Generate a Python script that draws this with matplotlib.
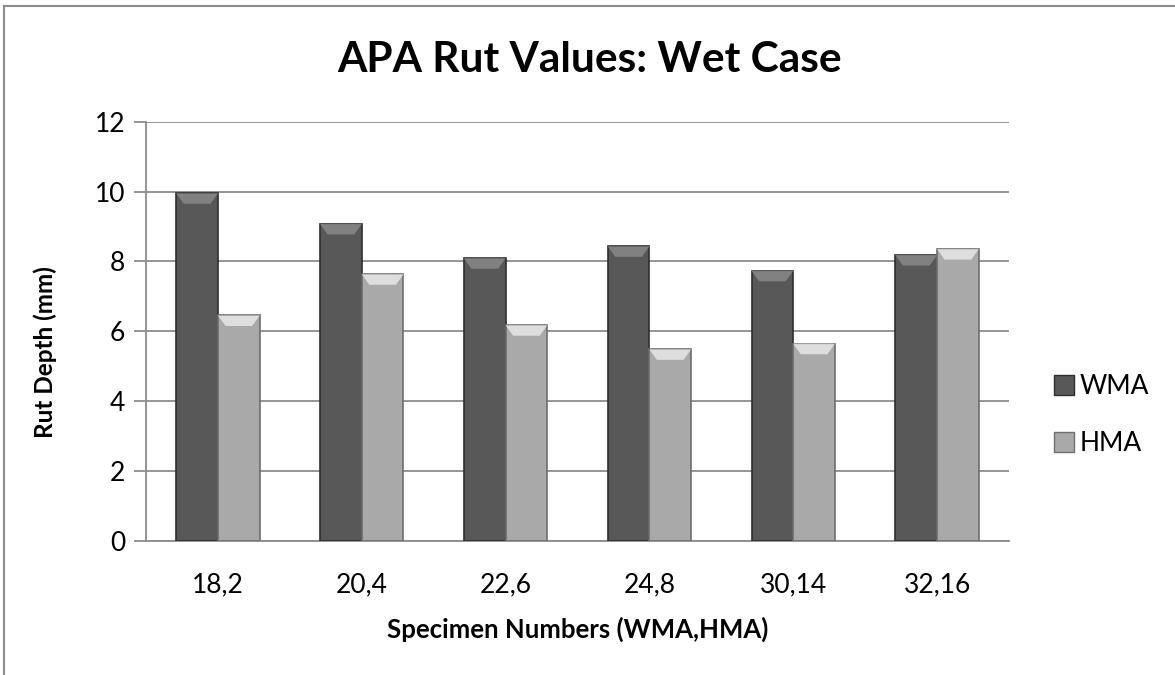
import numpy as np
import matplotlib.pyplot as plt
from matplotlib.patches import Polygon
from matplotlib.lines import Line2D

# data
categories = ['18,2', '20,4', '22,6', '24,8', '30,14', '32,16']
wma = [9.95, 9.07, 8.09, 8.43, 7.73, 8.18]
hma = [6.45, 7.63, 6.17, 5.48, 5.64, 8.35]
series_names = ['WMA', 'HMA']

plt.rcParams['font.family'] = ['Lato', 'DejaVu Sans']

fig = plt.figure(figsize=(11.75, 6.75), dpi=100)
ax = fig.add_axes([0.1243, 0.199, 0.7344, 0.6207])

x = np.arange(len(categories))
width = 0.29

styles = [
    # body, edge, bevel
    ('#585858', '#2e2e2e', '#8c8c8c'),
    ('#a9a9a9', '#6e6e6e', '#ececec'),
]

for i, vals in enumerate([wma, hma]):
    body, edge, bevel = styles[i]
    offs = (i - 0.5) * width
    bars = ax.bar(x + offs, vals, width, color=body, edgecolor=edge,
                  linewidth=1.2, zorder=3)
    # simple bevel on the top of each bar
    for b in bars:
        x0 = b.get_x()
        w = b.get_width()
        h = b.get_height()
        dx = w * 0.18
        dy = 0.3
        top = Polygon([(x0, h), (x0 + w, h), (x0 + w - dx, h - dy), (x0 + dx, h - dy)],
                      closed=True, facecolor=bevel, edgecolor='none', alpha=0.8, zorder=4)
        ax.add_patch(top)

ax.set_xlim(-0.5, len(categories) - 0.5)
ax.set_ylim(0, 12)
ax.set_yticks(range(0, 13, 2))
ax.set_xticks(x)
ax.set_xticklabels(categories)

ax.grid(axis='y', color='#8c8c8c', linewidth=1.3, zorder=0)
ax.set_axisbelow(True)
for s in ['top', 'right']:
    ax.spines[s].set_visible(False)
ax.spines['left'].set_color('#8c8c8c')
ax.spines['left'].set_linewidth(1.3)
ax.spines['bottom'].set_color('#8c8c8c')
ax.spines['bottom'].set_linewidth(1.3)
ax.tick_params(axis='y', length=9, width=1.3, color='#8c8c8c', labelsize=19, pad=6)
ax.tick_params(axis='x', length=0, labelsize=19, pad=23)

ax.set_ylabel('Rut Depth (mm)', fontsize=17.5, fontweight='bold')
ax.yaxis.set_label_coords(-0.103, 0.45)
ax.set_xlabel('Specimen Numbers (WMA,HMA)', fontsize=18.5, fontweight='bold', labelpad=14)

fig.text(0.502, 1 - 72 / 675, 'APA Rut Values: Wet Case', ha='center', va='baseline',
         fontsize=30.5, fontweight='bold')

handles = [Line2D([], [], marker='s', linestyle='none', markersize=15,
                  markerfacecolor=styles[i][0], markeredgecolor=styles[i][1])
           for i in range(2)]
fig.legend(handles, series_names, loc='center left', bbox_to_anchor=(0.874, 0.385),
           frameon=False, fontsize=19, handletextpad=0.1, labelspacing=1.2,
           handlelength=1.0)

# outer chart border (only left and top edges are in frame)
fig.add_artist(Line2D([0.0034, 0.0034], [0, 0.991], transform=fig.transFigure,
                      color='#8c8c8c', linewidth=1.5))
fig.add_artist(Line2D([0.0034, 1.0], [0.991, 0.991], transform=fig.transFigure,
                      color='#8c8c8c', linewidth=1.5))

fig.savefig('out.png', dpi=100)
